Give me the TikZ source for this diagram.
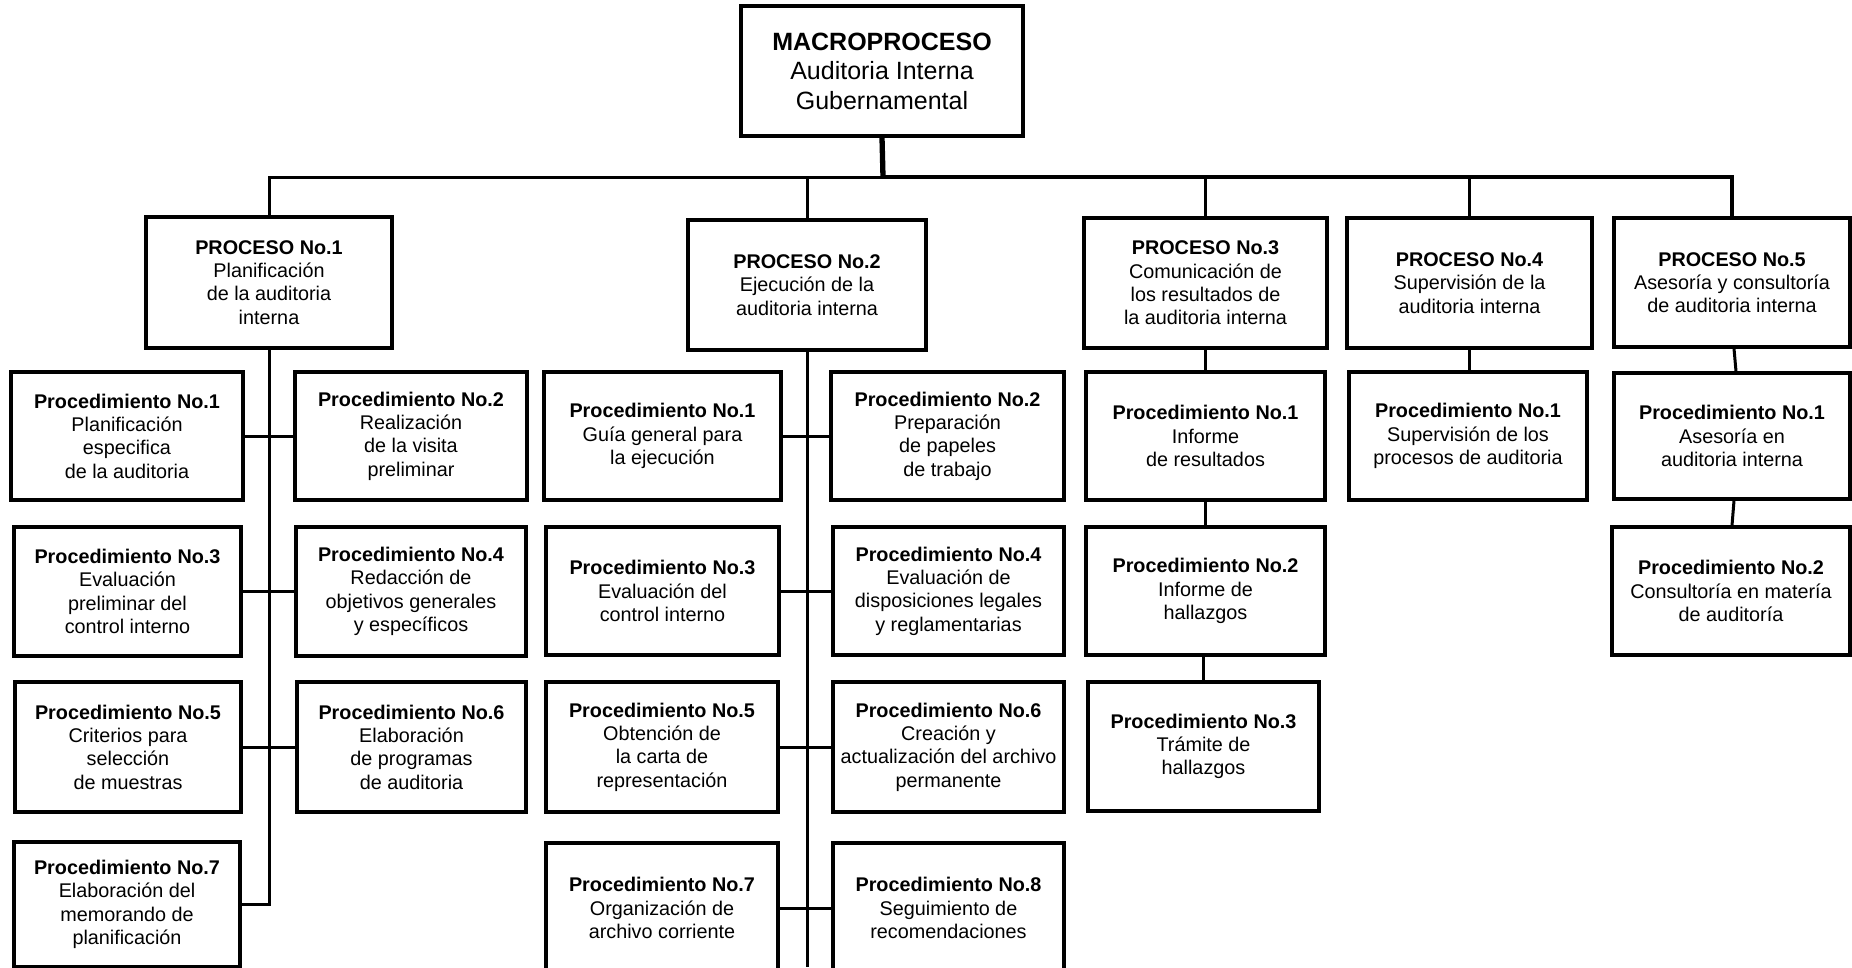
\documentclass[tikz,border=0pt]{standalone}
\usepackage{fontspec}
\setmainfont{Liberation Sans}
\begin{document}
\begin{tikzpicture}[x=1pt,y=-1pt,
  box/.style={draw, rectangle, line width=3.2pt, align=center, inner sep=0pt,
              font=\fontsize{19.8pt}{23.3pt}\selectfont},
  topbox/.style={box, font=\fontsize{25pt}{29.5pt}\selectfont},
  link/.style={line width=3pt},
  buslink/.style={line width=4.2pt},
  stem/.style={line width=5.3pt}]
\useasboundingbox (0,0) rectangle (1852,967);

% top of the hierarchy
\node[topbox, minimum width=282pt, minimum height=130pt] (macro) at (882,71)
  {\textbf{MACROPROCESO}\\Auditoria Interna\\Gubernamental};

% processes
\node[box, minimum width=246pt, minimum height=131pt] (p1) at (269,282.5)
  {\textbf{PROCESO No.1}\\Planificación\\de la auditoria\\interna};
\node[box, minimum width=238pt, minimum height=130pt] (p2) at (807,285)
  {\textbf{PROCESO No.2}\\Ejecución de la\\auditoria interna};
\node[box, minimum width=243pt, minimum height=130pt] (p3) at (1205.5,283)
  {\textbf{PROCESO No.3}\\Comunicación de\\los resultados de\\la auditoria interna};
\node[box, minimum width=245pt, minimum height=130pt] (p4) at (1469.5,283)
  {\textbf{PROCESO No.4}\\Supervisión de la\\auditoria interna};
\node[box, minimum width=236pt, minimum height=129pt] (p5) at (1732,282.5)
  {\textbf{PROCESO No.5}\\Asesoría y consultoría\\de auditoria interna};

% procedures of process 1
\node[box, minimum width=232pt, minimum height=128pt] (c1a) at (127,436)
  {\textbf{Procedimiento No.1}\\Planificación\\especifica\\de la auditoria};
\node[box, minimum width=232pt, minimum height=128pt] (c1b) at (411,436)
  {\textbf{Procedimiento No.2}\\Realización\\de la visita\\preliminar};
\node[box, minimum width=227pt, minimum height=129pt] (c1c) at (127.5,591.5)
  {\textbf{Procedimiento No.3}\\Evaluación\\preliminar del\\control interno};
\node[box, minimum width=230pt, minimum height=129pt] (c1d) at (411,591.5)
  {\textbf{Procedimiento No.4}\\Redacción de\\objetivos generales\\y específicos};
\node[box, minimum width=226pt, minimum height=130pt] (c1e) at (128,747)
  {\textbf{Procedimiento No.5}\\Criterios para\\selección\\de muestras};
\node[box, minimum width=229pt, minimum height=130pt] (c1f) at (411.5,747)
  {\textbf{Procedimiento No.6}\\Elaboración\\de programas\\de auditoria};
\node[box, minimum width=226pt, minimum height=125pt] (c1g) at (127,904.5)
  {\textbf{Procedimiento No.7}\\Elaboración del\\memorando de\\planificación};

% procedures of process 2
\node[box, minimum width=237pt, minimum height=128pt] (c2a) at (662.5,436)
  {\textbf{Procedimiento No.1}\\Guía general para\\la ejecución};
\node[box, minimum width=233pt, minimum height=128pt] (c2b) at (947.5,436)
  {\textbf{Procedimiento No.2}\\Preparación\\de papeles\\de trabajo};
\node[box, minimum width=233pt, minimum height=128pt] (c2c) at (662.5,591)
  {\textbf{Procedimiento No.3}\\Evaluación del\\control interno};
\node[box, minimum width=231pt, minimum height=128pt] (c2d) at (948.5,591)
  {\textbf{Procedimiento No.4}\\Evaluación de\\disposiciones legales\\y reglamentarias};
\node[box, minimum width=232pt, minimum height=130pt] (c2e) at (662,747)
  {\textbf{Procedimiento No.5}\\Obtención de\\la carta de\\representación};
\node[box, minimum width=231pt, minimum height=130pt] (c2f) at (948.5,747)
  {\textbf{Procedimiento No.6}\\Creación y\\actualización del archivo\\permanente};
\node[box, minimum width=232pt, minimum height=130pt] (c2g) at (662,908)
  {\textbf{Procedimiento No.7}\\Organización de\\archivo corriente};
\node[box, minimum width=231pt, minimum height=130pt] (c2h) at (948.5,908)
  {\textbf{Procedimiento No.8}\\Seguimiento de\\recomendaciones};

% procedures of process 3
\node[box, minimum width=239pt, minimum height=128pt] (c3a) at (1205.5,436)
  {\textbf{Procedimiento No.1}\\Informe\\de resultados};
\node[box, minimum width=239pt, minimum height=128pt] (c3b) at (1205.5,591)
  {\textbf{Procedimiento No.2}\\Informe de\\hallazgos};
\node[box, minimum width=231pt, minimum height=129pt] (c3c) at (1203.5,746.5)
  {\textbf{Procedimiento No.3}\\Trámite de\\hallazgos};

% procedure of process 4
\node[box, minimum width=238pt, minimum height=128pt] (c4a) at (1468,436)
  {\textbf{Procedimiento No.1}\\Supervisión de los\\procesos de auditoria};

% procedures of process 5
\node[box, minimum width=236pt, minimum height=126pt] (c5a) at (1732,436)
  {\textbf{Procedimiento No.1}\\Asesoría en\\auditoria interna};
\node[box, minimum width=238pt, minimum height=128pt] (c5b) at (1731,591)
  {\textbf{Procedimiento No.2}\\Consultoría en matería\\de auditoría};

% main bus
\coordinate (bus) at (883,177);
\coordinate (t2end) at (807,967);
\draw[stem] (macro.south) -- (bus);
\draw[link] (p1.north) |- (bus);
\draw[buslink] (bus) -| (p5.north);
\draw[link] (p2.north) -- (p2.north |- bus);
\draw[link] (p3.north) -- (p3.north |- bus);
\draw[link] (p4.north) -- (p4.north |- bus);

% process 1 trunk and branches
\draw[link] (p1.south) |- (c1g.east);
\draw[link] (c1a.east) -- (c1b.west);
\draw[link] (c1c.east) -- (c1d.west);
\draw[link] (c1e.east) -- (c1f.west);

% process 2 trunk and branches
\draw[link] (p2.south) -- (t2end);
\draw[link] (c2a.east) -- (c2b.west);
\draw[link] (c2c.east) -- (c2d.west);
\draw[link] (c2e.east) -- (c2f.west);
\draw[link] (c2g.east) -- (c2h.west);

% process 3 chain
\draw[link] (p3.south) -- (c3a.north);
\draw[link] (c3a.south) -- (c3b.north);
\draw[link] (c3c.north |- c3b.south) -- (c3c.north);

% process 4 chain
\draw[link] (p4.south) -- (p4.south |- c4a.north);

% process 5 chain
\draw[link] ([xshift=2pt]p5.south) -- ([xshift=4pt]c5a.north);
\draw[link] ([xshift=2pt]c5a.south) -- ([xshift=1pt]c5b.north);
\end{tikzpicture}
\end{document}
